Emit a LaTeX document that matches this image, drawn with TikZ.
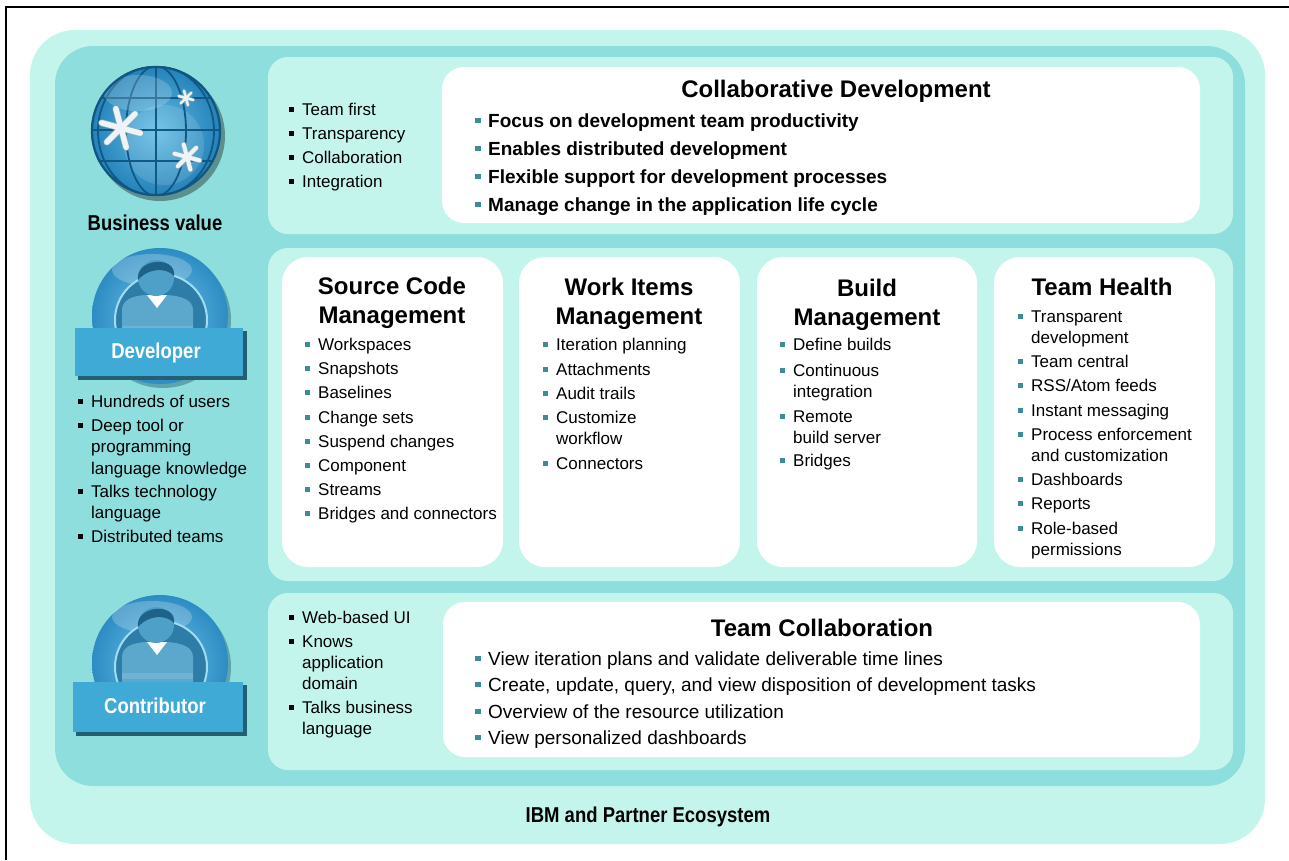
\documentclass[tikz,border=0pt]{standalone}
\usepackage{fontspec}
\setmainfont{Liberation Sans}
\newfontfamily\condensed[FakeStretch=0.86]{Liberation Sans}

\definecolor{paleaqua}{RGB}{196,245,237}
\definecolor{deepaqua}{RGB}{141,222,221}
\definecolor{bulteal}{RGB}{62,140,148}
\definecolor{iconblue}{RGB}{64,170,214}
\definecolor{iconshadow}{RGB}{35,95,115}
\definecolor{gridblue}{RGB}{16,88,134}
\definecolor{rimblue}{RGB}{18,85,128}
\definecolor{discblue}{RGB}{45,140,195}
\definecolor{innerblue}{RGB}{45,125,168}
\definecolor{bodyblue}{RGB}{92,168,204}
\definecolor{hairblue}{RGB}{30,98,138}
\definecolor{starrim}{RGB}{140,170,185}
\definecolor{ringblue}{RGB}{160,220,242}
\definecolor{faceblue}{RGB}{78,160,200}
\definecolor{globelight}{RGB}{100,188,228}
\definecolor{globedark}{RGB}{36,130,185}
\definecolor{disclight}{RGB}{115,198,234}
\definecolor{starwhite}{RGB}{238,244,246}

% square bullet followed by a fixed gap; continuation lines use the same indent
\newcommand\bsq[1][bulteal]{\makebox[13pt][l]{\textcolor{#1}{\rule[3.5pt]{5pt}{5pt}}}}
\newcommand\bbsq{\makebox[13pt][l]{\textcolor{bulteal}{\rule[4pt]{5.5pt}{5.5pt}}}}
\newcommand\cont{\hspace*{13pt}}

% six-armed star on the globe
\newcommand\globestar[4]{%
  \begin{scope}[shift={(#1,#2)}]
    \foreach \a in {15,75,135}
      \draw[starrim, line width=#4+1.4pt, line cap=round] (\a:#3) -- (\a+180:#3);
    \foreach \a in {15,75,135}
      \draw[starwhite, line width=#4, line cap=round] (\a:#3) -- (\a+180:#3);
  \end{scope}}

% round user badge with a head-and-shoulders figure
\newcommand\drawperson[2]{%
  \begin{scope}[shift={(#1,#2)}]
    \fill[iconshadow, opacity=.45] (3,4) circle (68);
    \shade[inner color=disclight, outer color=discblue] (0,0) circle (68);
    \fill[white, opacity=.22] (-8,-46) ellipse (40 and 16);
    \fill[innerblue] (1,4) circle (46);
    \draw[ringblue, line width=2pt] (1,4) circle (46);
    \begin{scope}
      \clip (1,4) circle (45);
      \fill[bodyblue] (-38,50) -- (-38,-6) .. controls (-38,-16) and (-28,-20) .. (-15,-21)
        -- (7,-21) .. controls (22,-20) and (33,-16) .. (33,-6) -- (33,50) -- cycle;
      \fill[white, opacity=.12] (-38,10) -- (33,10) -- (33,16) -- (-38,16) -- cycle;
    \end{scope}
    \fill[white] (-13,-21) -- (7,-21) -- (-3,-8) -- cycle;
    \fill[faceblue] (-4,-38) circle (18);
    \fill[hairblue] (-22,-36) .. controls (-25,-58) and (17,-61) .. (14,-40)
      .. controls (6,-49) and (-12,-48) .. (-22,-36) -- cycle;
  \end{scope}}

\tikzset{
  panel/.style={fill=paleaqua, rounded corners=20pt},
  card/.style={fill=white, rounded corners=26pt},
  widecard/.style={fill=white, rounded corners=22pt},
  item/.style={anchor=base west, inner sep=0pt, text=black, font=\fontsize{17}{20}\selectfont},
  bolditem/.style={item, font=\bfseries\fontsize{19}{22}\selectfont},
  wideitem/.style={item, font=\fontsize{19}{22}\selectfont},
  heading/.style={anchor=base, inner sep=0pt, font=\bfseries\fontsize{24}{28}\selectfont},
  caption/.style={anchor=base, inner sep=0pt, font=\condensed\bfseries\fontsize{21.5}{26}\selectfont},
  rolebox/.style={fill=iconblue},
  roleshadow/.style={fill=iconshadow},
}

\begin{document}
\begin{tikzpicture}[x=1pt, y=-1pt]
\useasboundingbox (0,0) rectangle (1289,860);
\fill[white] (0,0) rectangle (1289,860);

% page frame (left and top rules)
\draw[line width=1.6pt] (6,860) -- (6,7) -- (1289,7);

% nested background layers
\fill[paleaqua, rounded corners=45pt] (30,30) rectangle (1265,844);
\fill[deepaqua, rounded corners=38pt] (55,46) rectangle (1245,786);

% three horizontal bands
\fill[panel] (268,57) rectangle (1233,234);
\fill[panel] (268,248) rectangle (1233,581);
\fill[panel] (268,593) rectangle (1233,770);

% white cards
\fill[widecard] (442,67) rectangle (1200,223);
\fill[card] (282,257) rectangle (503,567);
\fill[card] (519,257) rectangle (740,567);
\fill[card] (757,257) rectangle (977,567);
\fill[card] (994,257) rectangle (1215,567);
\fill[widecard] (443,602) rectangle (1200,757);

% ---------- globe ----------
\begin{scope}[shift={(156,131)}]
  \fill[black, opacity=.35] (4,5) circle (65);
  \shade[inner color=globelight, outer color=globedark] (0,0) circle (65);
  \begin{scope}
    \clip (0,0) circle (65);
    \fill[white, opacity=.12] (8,14) circle (40);
    \draw[gridblue, line width=1.8pt] (0,-65) -- (0,65)
      (-65,-33) -- (65,-33) (-65,-1) -- (65,-1) (-65,30) -- (65,30);
    \draw[gridblue, line width=1.8pt] (0,0) ellipse (30 and 65) (0,0) ellipse (58 and 65);
    \fill[white, opacity=.18] (-18,-38) ellipse (34 and 18);
  \end{scope}
  \draw[rimblue, line width=2.2pt] (0,0) circle (64);
\end{scope}
\globestar{121}{128}{20}{5.5pt}
\globestar{187}{157}{13}{4pt}
\globestar{186}{98}{7.5}{2.4pt}
\node[caption] (bv) at (155,230) {Business value};

% ---------- developer badge ----------
\drawperson{160}{316}
\fill[roleshadow] (78,331) rectangle (247,380);
\fill[rolebox] (75,328) rectangle (243,376);
\node[caption, text=white] (dev) at (156,358) {Developer};

\node[item] (d1) at (78,407) {\bsq[black]Hundreds of users};
\node[item] (d2) at (78,431) {\bsq[black]Deep tool or};
\node[item] (d3) at (78,452) {\cont programming};
\node[item] (d4) at (78,474) {\cont language knowledge};
\node[item] (d5) at (78,497) {\bsq[black]Talks technology};
\node[item] (d6) at (78,518) {\cont language};
\node[item] (d7) at (78,542) {\bsq[black]Distributed teams};

% ---------- contributor badge ----------
\drawperson{160}{663}
\fill[roleshadow] (76,685) rectangle (247,736);
\fill[rolebox] (73,682) rectangle (243,732);
\node[caption, text=white] (con) at (155,713) {Contributor};

% ---------- band 1: values and collaborative development ----------
\node[item] (v1) at (289,115) {\bsq[black]Team first};
\node[item] (v2) at (289,139) {\bsq[black]Transparency};
\node[item] (v3) at (289,163) {\bsq[black]Collaboration};
\node[item] (v4) at (289,187) {\bsq[black]Integration};

\node[heading] (cdt) at (836,97) {Collaborative Development};
\node[bolditem] (cd1) at (475,127) {\bbsq Focus on development team productivity};
\node[bolditem] (cd2) at (475,155) {\bbsq Enables distributed development};
\node[bolditem] (cd3) at (475,183) {\bbsq Flexible support for development processes};
\node[bolditem] (cd4) at (475,211) {\bbsq Manage change in the application life cycle};

% ---------- band 2: four capability cards ----------
\node[heading] (scmt1) at (392,294) {Source Code};
\node[heading] (scmt2) at (392,323) {Management};
\node[item] (s1) at (305,350) {\bsq Workspaces};
\node[item] (s2) at (305,374) {\bsq Snapshots};
\node[item] (s3) at (305,398) {\bsq Baselines};
\node[item] (s4) at (305,423) {\bsq Change sets};
\node[item] (s5) at (305,447) {\bsq Suspend changes};
\node[item] (s6) at (305,471) {\bsq Component};
\node[item] (s7) at (305,495) {\bsq Streams};
\node[item] (s8) at (305,519) {\bsq Bridges and connectors};

\node[heading] (wit1) at (629,295) {Work Items};
\node[heading] (wit2) at (629,324) {Management};
\node[item] (w1) at (543,350) {\bsq Iteration planning};
\node[item] (w2) at (543,375) {\bsq Attachments};
\node[item] (w3) at (543,399) {\bsq Audit trails};
\node[item] (w4) at (543,423) {\bsq Customize};
\node[item] (w5) at (543,444) {\cont workflow};
\node[item] (w6) at (543,469) {\bsq Connectors};

\node[heading] (bmt1) at (867,296) {Build};
\node[heading] (bmt2) at (867,325) {Management};
\node[item] (b1) at (780,350) {\bsq Define builds};
\node[item] (b2) at (780,376) {\bsq Continuous};
\node[item] (b3) at (780,397) {\cont integration};
\node[item] (b4) at (780,422) {\bsq Remote};
\node[item] (b5) at (780,443) {\cont build server};
\node[item] (b6) at (780,466) {\bsq Bridges};

\node[heading] (tht) at (1102,295) {Team Health};
\node[item] (h1) at (1018,322) {\bsq Transparent};
\node[item] (h2) at (1018,343) {\cont development};
\node[item] (h3) at (1018,367) {\bsq Team central};
\node[item] (h4) at (1018,391) {\bsq RSS/Atom feeds};
\node[item] (h5) at (1018,416) {\bsq Instant messaging};
\node[item] (h6) at (1018,440) {\bsq Process enforcement};
\node[item] (h7) at (1018,461) {\cont and customization};
\node[item] (h8) at (1018,485) {\bsq Dashboards};
\node[item] (h9) at (1018,509) {\bsq Reports};
\node[item] (h10) at (1018,534) {\bsq Role-based};
\node[item] (h11) at (1018,555) {\cont permissions};

% ---------- band 3: contributor traits and team collaboration ----------
\node[item] (c1) at (289,623) {\bsq[black]Web-based UI};
\node[item] (c2) at (289,647) {\bsq[black]Knows};
\node[item] (c3) at (289,668) {\cont application};
\node[item] (c4) at (289,689) {\cont domain};
\node[item] (c5) at (289,713) {\bsq[black]Talks business};
\node[item] (c6) at (289,734) {\cont language};

\node[heading] (tct) at (822,636) {Team Collaboration};
\node[wideitem] (t1) at (475,665) {\bbsq View iteration plans and validate deliverable time lines};
\node[wideitem] (t2) at (475,691) {\bbsq Create, update, query, and view disposition of development tasks};
\node[wideitem] (t3) at (475,718) {\bbsq Overview of the resource utilization};
\node[wideitem] (t4) at (475,744) {\bbsq View personalized dashboards};

% ---------- ecosystem caption ----------
\node[caption] (eco) at (648,822) {IBM and Partner Ecosystem};
\end{tikzpicture}
\end{document}
